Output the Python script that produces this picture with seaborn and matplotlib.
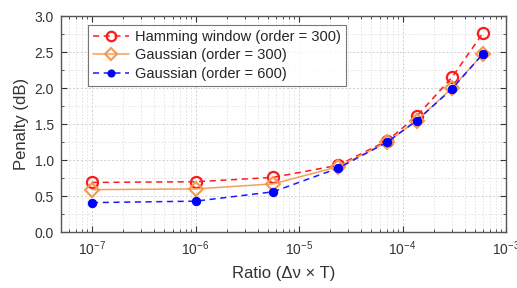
import numpy as np
import pandas as pd
import matplotlib
matplotlib.use("Agg")
import matplotlib.pyplot as plt
import seaborn as sns
from matplotlib.ticker import LogLocator, MultipleLocator, NullFormatter

# datos
ratio = [1e-7, 1e-6, 5.6e-6, 2.4e-5, 7.1e-5, 1.37e-4, 3.0e-4, 6.0e-4]
hamming_300 = [0.69, 0.70, 0.76, 0.93, 1.27, 1.61, 2.15, 2.77]
gauss_300 = [0.59, 0.60, 0.67, 0.91, 1.25, 1.55, 2.00, 2.48]
gauss_600 = [0.41, 0.43, 0.56, 0.89, 1.25, 1.55, 1.99, 2.48]
labels = ["Hamming window (order = 300)", "Gaussian (order = 300)", "Gaussian (order = 600)"]

sns.set_style("ticks")
plt.rcParams["font.family"] = ["Liberation Sans", "DejaVu Sans"]

fig = plt.figure(figsize=(5.17, 2.88), dpi=100)
ax = fig.add_axes([0.118, 0.194, 0.861, 0.750])

df = pd.DataFrame({"ratio": ratio, "h300": hamming_300, "g300": gauss_300, "g600": gauss_600})

sns.lineplot(data=df, x="ratio", y="h300", ax=ax, color="#ff1a1a", linestyle=(0, (4, 3)),
             lw=1.1, marker="o", markersize=8, markerfacecolor="none",
             markeredgecolor="#ff1a1a", markeredgewidth=1.6, label=labels[0])
sns.lineplot(data=df, x="ratio", y="g300", ax=ax, color="#f5a05a", linestyle="-",
             lw=1.1, marker="D", markersize=7, markerfacecolor="none",
             markeredgecolor="#f39a4e", markeredgewidth=1.5, label=labels[1])
sns.lineplot(data=df, x="ratio", y="g600", ax=ax, color="#1a1aff", linestyle=(0, (4, 3)),
             lw=1.1, marker="o", markersize=6, markerfacecolor="#0000ff",
             markeredgecolor="#0000ff", label=labels[2])

ax.set_xscale("log")
ax.set_xlim(10**-7.3, 1e-3)
ax.set_ylim(0, 3.0)
ax.yaxis.set_major_locator(MultipleLocator(0.5))
ax.yaxis.set_minor_locator(MultipleLocator(0.25))
ax.xaxis.set_major_locator(LogLocator(base=10, numticks=10))
ax.xaxis.set_minor_locator(LogLocator(base=10, subs=np.arange(2, 10), numticks=10))
ax.xaxis.set_minor_formatter(NullFormatter())

ax.grid(which="major", color="#d0d0d0", linestyle=(0, (2, 2)), lw=0.7)
ax.grid(which="minor", color="#e0e0e0", linestyle=(0, (2, 2)), lw=0.6)
ax.set_axisbelow(True)

ax.tick_params(which="both", direction="in", top=True, right=True, labelsize=10, colors="#333333")
ax.tick_params(which="major", length=4, pad=5)
ax.tick_params(which="minor", length=2)
for s in ax.spines.values():
    s.set_color("#555555")
    s.set_linewidth(1.0)

ax.set_xlabel("Ratio (\u0394\u03bd \u00d7 T)", fontsize=12, color="#333333", labelpad=6)
ax.set_ylabel("Penalty (dB)", fontsize=12, color="#333333")

leg = ax.legend(loc="upper left", bbox_to_anchor=(0.06, 0.96), fontsize=10.5, frameon=True,
                fancybox=False, edgecolor="#555555", borderpad=0.35, labelspacing=0.3,
                handlelength=2.5, handletextpad=0.4, borderaxespad=0, markerscale=0.85)
leg.get_frame().set_linewidth(0.8)

plt.savefig("out.png", dpi=100)
plt.close()
